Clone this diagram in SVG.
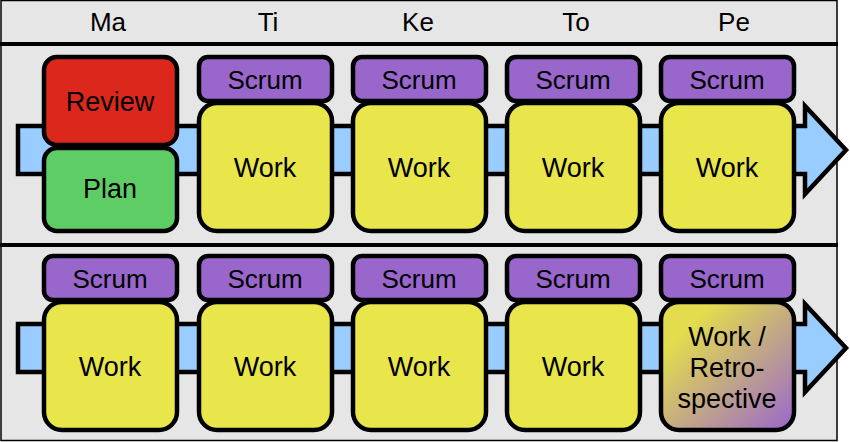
<svg xmlns="http://www.w3.org/2000/svg" width="850" height="442" viewBox="0 0 850 442">
<style>
text{font-family:"Liberation Sans",Arial,sans-serif;text-anchor:middle;fill:#000}
.hd{font-size:26px}
.lb{font-size:27px}
.sc{font-size:26px}
.box{stroke:#000;stroke-width:4.5}
.scrum{fill:#9966cc}
.work{fill:#e8e64a}
.arrow{fill:#99ccff;stroke:#000;stroke-width:4.5;stroke-linejoin:miter}
</style>
<defs>
<linearGradient id="retro" x1="0" y1="0" x2="1" y2="1">
<stop offset="0.2" stop-color="#e3dc4e"/>
<stop offset="1" stop-color="#9966cc"/>
</linearGradient>
</defs>
<rect x="1" y="0.5" width="836" height="440" fill="#e6e6e6" stroke="#000" stroke-width="1.5"/>
<line x1="0" y1="44" x2="838" y2="44" stroke="#000" stroke-width="4"/>
<line x1="0" y1="245" x2="838" y2="245" stroke="#000" stroke-width="4"/>
<g id="header">
<text class="hd" x="108" y="31">Ma</text>
<text class="hd" x="268" y="31">Ti</text>
<text class="hd" x="418" y="31">Ke</text>
<text class="hd" x="576" y="31">To</text>
<text class="hd" x="734" y="31">Pe</text>
</g>
<g id="connectors">
<path class="arrow" d="M18,126 H805 V106 L846,150 L805,194 V174 H18 Z"/>
<path class="arrow" d="M18,324 H805 V304 L846,348 L805,392 V372 H18 Z"/>
</g>
<g id="review"><rect class="box" x="44" y="57" width="133" height="88" rx="13" fill="#dc271d"/><text class="lb" x="110" y="111">Review</text></g>
<g id="plan"><rect class="box" x="44" y="148" width="133" height="83" rx="13" fill="#5fcd66"/><text class="lb" x="110" y="198">Plan</text></g>
<g id="scrum-ti1"><rect class="box scrum" x="199" y="57" width="133" height="44" rx="9"/><text class="sc" x="265" y="89">Scrum</text></g>
<g id="work-ti1"><rect class="box work" x="199" y="103" width="133" height="128" rx="18"/><text class="lb" x="265" y="177">Work</text></g>
<g id="scrum-ke1"><rect class="box scrum" x="353" y="57" width="133" height="44" rx="9"/><text class="sc" x="419" y="89">Scrum</text></g>
<g id="work-ke1"><rect class="box work" x="353" y="103" width="133" height="128" rx="18"/><text class="lb" x="419" y="177">Work</text></g>
<g id="scrum-to1"><rect class="box scrum" x="507" y="57" width="133" height="44" rx="9"/><text class="sc" x="573" y="89">Scrum</text></g>
<g id="work-to1"><rect class="box work" x="507" y="103" width="133" height="128" rx="18"/><text class="lb" x="573" y="177">Work</text></g>
<g id="scrum-pe1"><rect class="box scrum" x="661" y="57" width="133" height="44" rx="9"/><text class="sc" x="727" y="89">Scrum</text></g>
<g id="work-pe1"><rect class="box work" x="661" y="103" width="133" height="128" rx="18"/><text class="lb" x="727" y="177">Work</text></g>
<g id="scrum-ma2"><rect class="box scrum" x="44" y="256" width="133" height="44" rx="9"/><text class="sc" x="110" y="288">Scrum</text></g>
<g id="work-ma2"><rect class="box work" x="44" y="302" width="133" height="128" rx="18"/><text class="lb" x="110" y="376">Work</text></g>
<g id="scrum-ti2"><rect class="box scrum" x="199" y="256" width="133" height="44" rx="9"/><text class="sc" x="265" y="288">Scrum</text></g>
<g id="work-ti2"><rect class="box work" x="199" y="302" width="133" height="128" rx="18"/><text class="lb" x="265" y="376">Work</text></g>
<g id="scrum-ke2"><rect class="box scrum" x="353" y="256" width="133" height="44" rx="9"/><text class="sc" x="419" y="288">Scrum</text></g>
<g id="work-ke2"><rect class="box work" x="353" y="302" width="133" height="128" rx="18"/><text class="lb" x="419" y="376">Work</text></g>
<g id="scrum-to2"><rect class="box scrum" x="507" y="256" width="133" height="44" rx="9"/><text class="sc" x="573" y="288">Scrum</text></g>
<g id="work-to2"><rect class="box work" x="507" y="302" width="133" height="128" rx="18"/><text class="lb" x="573" y="376">Work</text></g>
<g id="scrum-pe2"><rect class="box scrum" x="661" y="256" width="133" height="44" rx="9"/><text class="sc" x="727" y="288">Scrum</text></g>
<g id="retro-pe2"><rect class="box" x="661" y="302" width="133" height="128" rx="18" fill="url(#retro)"/>
<text class="lb" x="727" y="346">Work /</text><text class="lb" x="727" y="377">Retro-</text><text class="lb" x="727" y="408">spective</text></g>
</svg>
